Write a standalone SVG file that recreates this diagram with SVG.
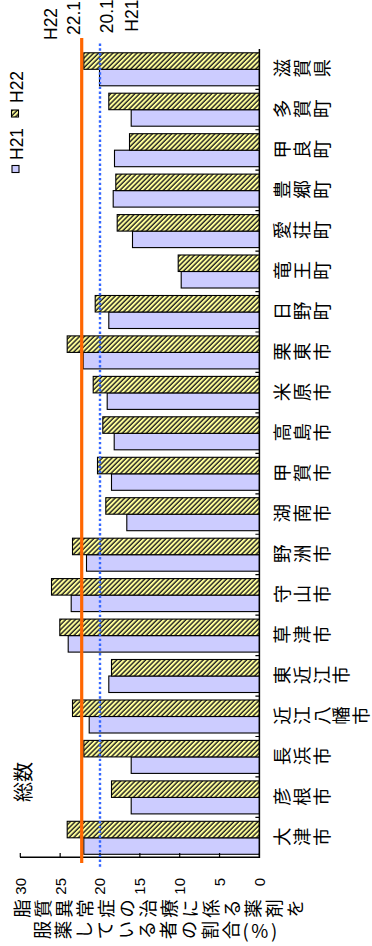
<svg xmlns="http://www.w3.org/2000/svg" width="372" height="946" viewBox="0 0 372 946">
<defs>
<pattern id="hatch" patternUnits="userSpaceOnUse" width="3.4" height="3.4" patternTransform="rotate(-45)">
<rect width="3.4" height="3.4" fill="#FFFF99"/>
<rect width="1.4" height="3.4" fill="#222"/>
</pattern>
</defs>
<style>
.h21{fill:#CCCCFF;stroke:#000;stroke-width:1.1}
.h22{fill:url(#hatch);stroke:#000;stroke-width:1.1}
.lat{font-family:"Liberation Sans",Arial,sans-serif;fill:#000}
.cjk{font-family:"Noto Sans CJK JP","Noto Sans CJK SC",sans-serif;fill:#000}
.cat{font-size:18.5px;letter-spacing:1.2px;writing-mode:vertical-rl}
.ttl{font-size:18.5px;letter-spacing:2.5px;writing-mode:vertical-rl}
.val{font-size:15px;text-anchor:end}
.ax{stroke:#000;stroke-width:1.5;fill:none}
.tk{stroke:#000;stroke-width:1.2}
</style>
<rect width="372" height="946" fill="#fff"/>
<g transform="translate(0,946) rotate(-90)">
<g id="bars">
<g id="c0"><rect class="h21" x="91.7" y="83.8" width="16.5" height="175.6"/><rect class="h22" x="108.2" y="67.2" width="16.5" height="192.2"/><text class="cjk cat" x="109.2" y="273">大津市</text></g>
<g id="c1"><rect class="h21" x="132.1" y="131.2" width="16.5" height="128.2"/><rect class="h22" x="148.6" y="111.5" width="16.5" height="147.9"/><text class="cjk cat" x="149.6" y="273">彦根市</text></g>
<g id="c2"><rect class="h21" x="172.6" y="131.2" width="16.5" height="128.2"/><rect class="h22" x="189.1" y="83.8" width="16.5" height="175.6"/><text class="cjk cat" x="190.1" y="273">長浜市</text></g>
<g id="c3"><rect class="h21" x="213" y="89.2" width="16.5" height="170.2"/><rect class="h22" x="229.5" y="72.5" width="16.5" height="186.9"/><text class="cjk cat" x="230.5" y="273">近江八幡市</text></g>
<g id="c4"><rect class="h21" x="253.5" y="108.8" width="16.5" height="150.6"/><rect class="h22" x="270" y="111.5" width="16.5" height="147.9"/><text class="cjk cat" x="271" y="273">東近江市</text></g>
<g id="c5"><rect class="h21" x="293.9" y="68.2" width="16.5" height="191.2"/><rect class="h22" x="310.4" y="59.8" width="16.5" height="199.6"/><text class="cjk cat" x="311.4" y="273">草津市</text></g>
<g id="c6"><rect class="h21" x="334.4" y="71.2" width="16.5" height="188.2"/><rect class="h22" x="350.9" y="51.5" width="16.5" height="207.9"/><text class="cjk cat" x="351.9" y="273">守山市</text></g>
<g id="c7"><rect class="h21" x="374.8" y="86.5" width="16.5" height="172.9"/><rect class="h22" x="391.3" y="72.5" width="16.5" height="186.9"/><text class="cjk cat" x="392.3" y="273">野洲市</text></g>
<g id="c8"><rect class="h21" x="415.3" y="126.8" width="16.5" height="132.6"/><rect class="h22" x="431.8" y="105.8" width="16.5" height="153.6"/><text class="cjk cat" x="432.8" y="273">湖南市</text></g>
<g id="c9"><rect class="h21" x="455.7" y="111.5" width="16.5" height="147.9"/><rect class="h22" x="472.2" y="97.5" width="16.5" height="161.9"/><text class="cjk cat" x="473.2" y="273">甲賀市</text></g>
<g id="c10"><rect class="h21" x="496.2" y="114.2" width="16.5" height="145.2"/><rect class="h22" x="512.7" y="102.8" width="16.5" height="156.6"/><text class="cjk cat" x="513.7" y="273">高島市</text></g>
<g id="c11"><rect class="h21" x="536.6" y="107.2" width="16.5" height="152.2"/><rect class="h22" x="553.1" y="93.2" width="16.5" height="166.2"/><text class="cjk cat" x="554.1" y="273">米原市</text></g>
<g id="c12"><rect class="h21" x="577.1" y="83.2" width="16.5" height="176.2"/><rect class="h22" x="593.6" y="67.2" width="16.5" height="192.2"/><text class="cjk cat" x="594.6" y="273">栗東市</text></g>
<g id="c13"><rect class="h21" x="617.5" y="108.8" width="16.5" height="150.6"/><rect class="h22" x="634" y="95.2" width="16.5" height="164.2"/><text class="cjk cat" x="635" y="273">日野町</text></g>
<g id="c14"><rect class="h21" x="658" y="181.2" width="16.5" height="78.2"/><rect class="h22" x="674.5" y="178.2" width="16.5" height="81.2"/><text class="cjk cat" x="675.5" y="273">竜王町</text></g>
<g id="c15"><rect class="h21" x="698.4" y="132.5" width="16.5" height="126.9"/><rect class="h22" x="714.9" y="117.2" width="16.5" height="142.2"/><text class="cjk cat" x="715.9" y="273">愛荘町</text></g>
<g id="c16"><rect class="h21" x="738.9" y="113.2" width="16.5" height="146.2"/><rect class="h22" x="755.4" y="115.8" width="16.5" height="143.6"/><text class="cjk cat" x="756.4" y="273">豊郷町</text></g>
<g id="c17"><rect class="h21" x="779.3" y="114.5" width="16.5" height="144.9"/><rect class="h22" x="795.8" y="129.5" width="16.5" height="129.9"/><text class="cjk cat" x="796.8" y="273">甲良町</text></g>
<g id="c18"><rect class="h21" x="819.8" y="131.2" width="16.5" height="128.2"/><rect class="h22" x="836.3" y="108.8" width="16.5" height="150.6"/><text class="cjk cat" x="837.3" y="273">多賀町</text></g>
<g id="c19"><rect class="h21" x="860.2" y="99.5" width="16.5" height="159.9"/><rect class="h22" x="876.7" y="83.8" width="16.5" height="175.6"/><text class="cjk cat" x="877.7" y="273">滋賀県</text></g>
</g>
<g id="axes">
<line class="ax" x1="88.7" y1="20" x2="88.7" y2="260"/>
<line class="ax" x1="88" y1="259.4" x2="897" y2="259.4"/>
<path class="tk" d="M88.7 259.4H93M88.7 219.55H93M88.7 179.7H93M88.7 139.85H93M88.7 100H93M88.7 60.15H93M88.7 20.3H93"/>
<path class="tk" d="M128.6 255.4V259.4M169.05 255.4V259.4M209.5 255.4V259.4M249.95 255.4V259.4M290.4 255.4V259.4M330.85 255.4V259.4M371.3 255.4V259.4M411.75 255.4V259.4M452.2 255.4V259.4M492.65 255.4V259.4M533.1 255.4V259.4M573.55 255.4V259.4M614 255.4V259.4M654.45 255.4V259.4M694.9 255.4V259.4M735.35 255.4V259.4M775.8 255.4V259.4M816.25 255.4V259.4M856.7 255.4V259.4"/>
<text class="lat val" x="68" y="264.8">0</text>
<text class="lat val" x="68" y="224.95">5</text>
<text class="lat val" x="68" y="185.1">10</text>
<text class="lat val" x="68" y="145.25">15</text>
<text class="lat val" x="68" y="105.4">20</text>
<text class="lat val" x="68" y="65.55">25</text>
<text class="lat val" x="68" y="25.7">30</text>
</g>
<g id="title">
<text class="cjk ttl" x="37.5" y="12.3">脂質異常症の治療に係る薬剤を</text>
<text class="cjk ttl" x="16" y="32.6">服薬している者の割合(%)</text>
</g>
<g id="label-total"><text class="cjk" x="144" y="30.5" font-size="20">総数</text></g>
<g id="legend">
<rect class="h21" x="773.5" y="12" width="7" height="7"/>
<text class="lat" x="786" y="23" font-size="17.5">H21</text>
<rect class="h22" x="829" y="11.5" width="7" height="7"/>
<text class="lat" x="843" y="23" font-size="17.5">H22</text>
</g>
<g id="connectors">
<line x1="83" y1="81.7" x2="908" y2="81.7" stroke="#FF6600" stroke-width="3.2"/>
<line x1="79.3" y1="100" x2="904.3" y2="100" stroke="#3366FF" stroke-width="2.4" stroke-dasharray="2.4 2.4"/>
</g>
<g id="line-labels">
<text class="lat" x="906" y="56.5" font-size="17.5">H22</text>
<text class="lat" x="911" y="80" font-size="17.5">22.1</text>
<text class="lat" x="912.7" y="113.3" font-size="17.5">20.1</text>
<text class="lat" x="914.3" y="138.3" font-size="17.5">H21</text>
</g>
</g>
</svg>
